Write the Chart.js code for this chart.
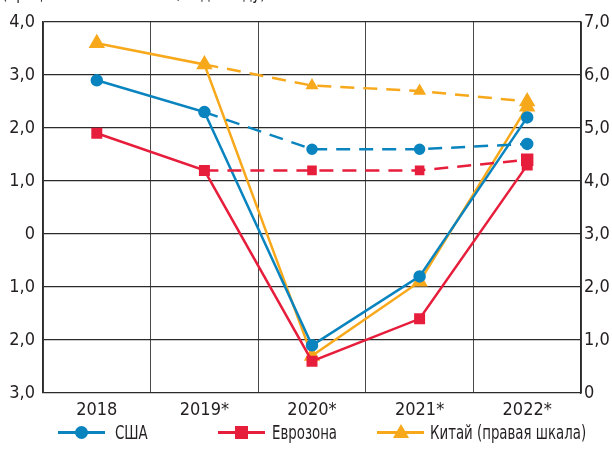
<!DOCTYPE html>
<html>
<head>
<meta charset="utf-8">
<script src="https://cdn.jsdelivr.net/npm/chart.js@4.4.0/dist/chart.umd.min.js"></script>
<style>
  html, body { margin: 0; padding: 0; background: #fff; }
  #wrap { position: relative; width: 612px; height: 464px; overflow: hidden;
          font-family: "DejaVu Sans Condensed", "DejaVu Sans", sans-serif; color: #231f20; }
  #sub { position: absolute; left: 2px; top: -17px; font-size: 19px; line-height: 19px; white-space: nowrap;
         transform: scaleX(0.8); transform-origin: left top; }
  .leg { position: absolute; top: 421px; height: 22px; font-size: 19px; line-height: 22px; }
  .leg .ln { position: absolute; top: 10px; width: 47px; height: 3px; }
  .leg .mk { position: absolute; }
  .leg .tx { position: absolute; white-space: nowrap; transform: scaleX(0.78); transform-origin: left center; }
</style>
</head>
<body>
<div id="wrap">
  <canvas id="myChart" width="612" height="464"></canvas>
  <div id="sub">(процентное изменение, год к году)</div>
  <div class="leg" style="left:58px">
    <div class="ln" style="background:#0a84bf"></div>
    <div class="mk" style="left:17px;top:5px;width:13px;height:13px;border-radius:50%;background:#0a84bf"></div>
    <div class="tx" style="left:57px">США</div>
  </div>
  <div class="leg" style="left:218px">
    <div class="ln" style="background:#e61e3c"></div>
    <div class="mk" style="left:17px;top:5px;width:13px;height:13px;background:#e61e3c"></div>
    <div class="tx" style="left:54px">Еврозона</div>
  </div>
  <div class="leg" style="left:377px">
    <div class="ln" style="background:#f7a81b"></div>
    <div class="mk" style="left:16px;top:3px;width:0;height:0;border-left:8px solid transparent;border-right:8px solid transparent;border-bottom:14px solid #f7a81b"></div>
    <div class="tx" style="left:53px">Китай (правая шкала)</div>
  </div>
</div>
<script>
const years = ['2018', '2019*', '2020*', '2021*', '2022*'];
const usa = [2.9, 2.3, -2.1, -0.8, 2.2];
const usaForecast = [null, 2.3, 1.6, 1.6, 1.7];
const euro = [1.9, 1.2, -2.4, -1.6, 1.3];
const euroForecast = [null, 1.2, 1.2, 1.2, 1.4];
const china = [6.6, 6.2, 0.7, 2.1, 5.4];
const chinaForecast = [null, 6.2, 5.8, 5.7, 5.5];
const leftTicks = [-3, -2, -1, 0, 1, 2, 3, 4];
const rightTicks = [0, 1, 2, 3, 4, 5, 6, 7];

const BLUE = '#0a84bf', RED = '#e61e3c', ORANGE = '#f7a81b';
const fmt = v => v === 0 ? '0' : Math.abs(v).toFixed(1).replace('.', ',');
const tickFont = { family: '"DejaVu Sans Condensed", "DejaVu Sans", sans-serif', size: 18 };

function solid(data, color, style, r, axis) {
  return { data: data, borderColor: color, backgroundColor: color, borderWidth: 2.5,
    pointStyle: style, pointRadius: r, pointHoverRadius: r, yAxisID: axis, tension: 0 };
}
function dashed(data, color, style, radii, axis) {
  return { data: data, borderColor: color, backgroundColor: color, borderWidth: 2.5,
    borderDash: [14, 9], pointStyle: style, pointRadius: radii, pointHoverRadius: radii,
    yAxisID: axis, tension: 0 };
}

const ctx = document.getElementById('myChart');
new Chart(ctx, {
  type: 'line',
  data: {
    labels: years,
    datasets: [
      dashed(chinaForecast, ORANGE, 'triangle', [0, 0, 5, 5, 7], 'y2'),
      dashed(usaForecast, BLUE, 'circle', [0, 0, 4.5, 4.5, 5], 'y'),
      dashed(euroForecast, RED, 'rect', [0, 0, 5, 5, 7], 'y'),
      solid(euro, RED, 'rect', 6, 'y'),
      solid(usa, BLUE, 'circle', 5, 'y'),
      solid(china, ORANGE, 'triangle', 7, 'y2')
    ]
  },
  options: {
    animation: false,
    responsive: false,
    layout: { padding: { top: 22, bottom: 41, left: 0, right: 0 } },
    plugins: { legend: { display: false }, tooltip: { enabled: false } },
    scales: {
      x: {
        offset: true,
        grid: { offset: true, color: '#4a4a4a', lineWidth: 1, drawTicks: false },
        border: { display: false },
        ticks: { font: tickFont, color: '#231f20', padding: 7 },
        afterFit: s => { s.height = 30; }
      },
      y: {
        position: 'left', min: -3, max: 4,
        afterBuildTicks: s => { s.ticks = leftTicks.map(v => ({ value: v })); },
        grid: { color: '#2b2b2b', lineWidth: 1.2, drawTicks: false },
        border: { color: '#2b2b2b', width: 1.5 },
        ticks: { font: tickFont, color: '#231f20', padding: 8, callback: fmt },
        afterFit: s => { s.width = 43; }
      },
      y2: {
        position: 'right', min: 0, max: 7,
        afterBuildTicks: s => { s.ticks = rightTicks.map(v => ({ value: v })); },
        grid: { display: false, drawTicks: false },
        border: { color: '#2b2b2b', width: 1.5 },
        ticks: { font: tickFont, color: '#231f20', padding: 3, callback: fmt },
        afterFit: s => { s.width = 31; }
      }
    }
  }
});
</script>
</body>
</html>
